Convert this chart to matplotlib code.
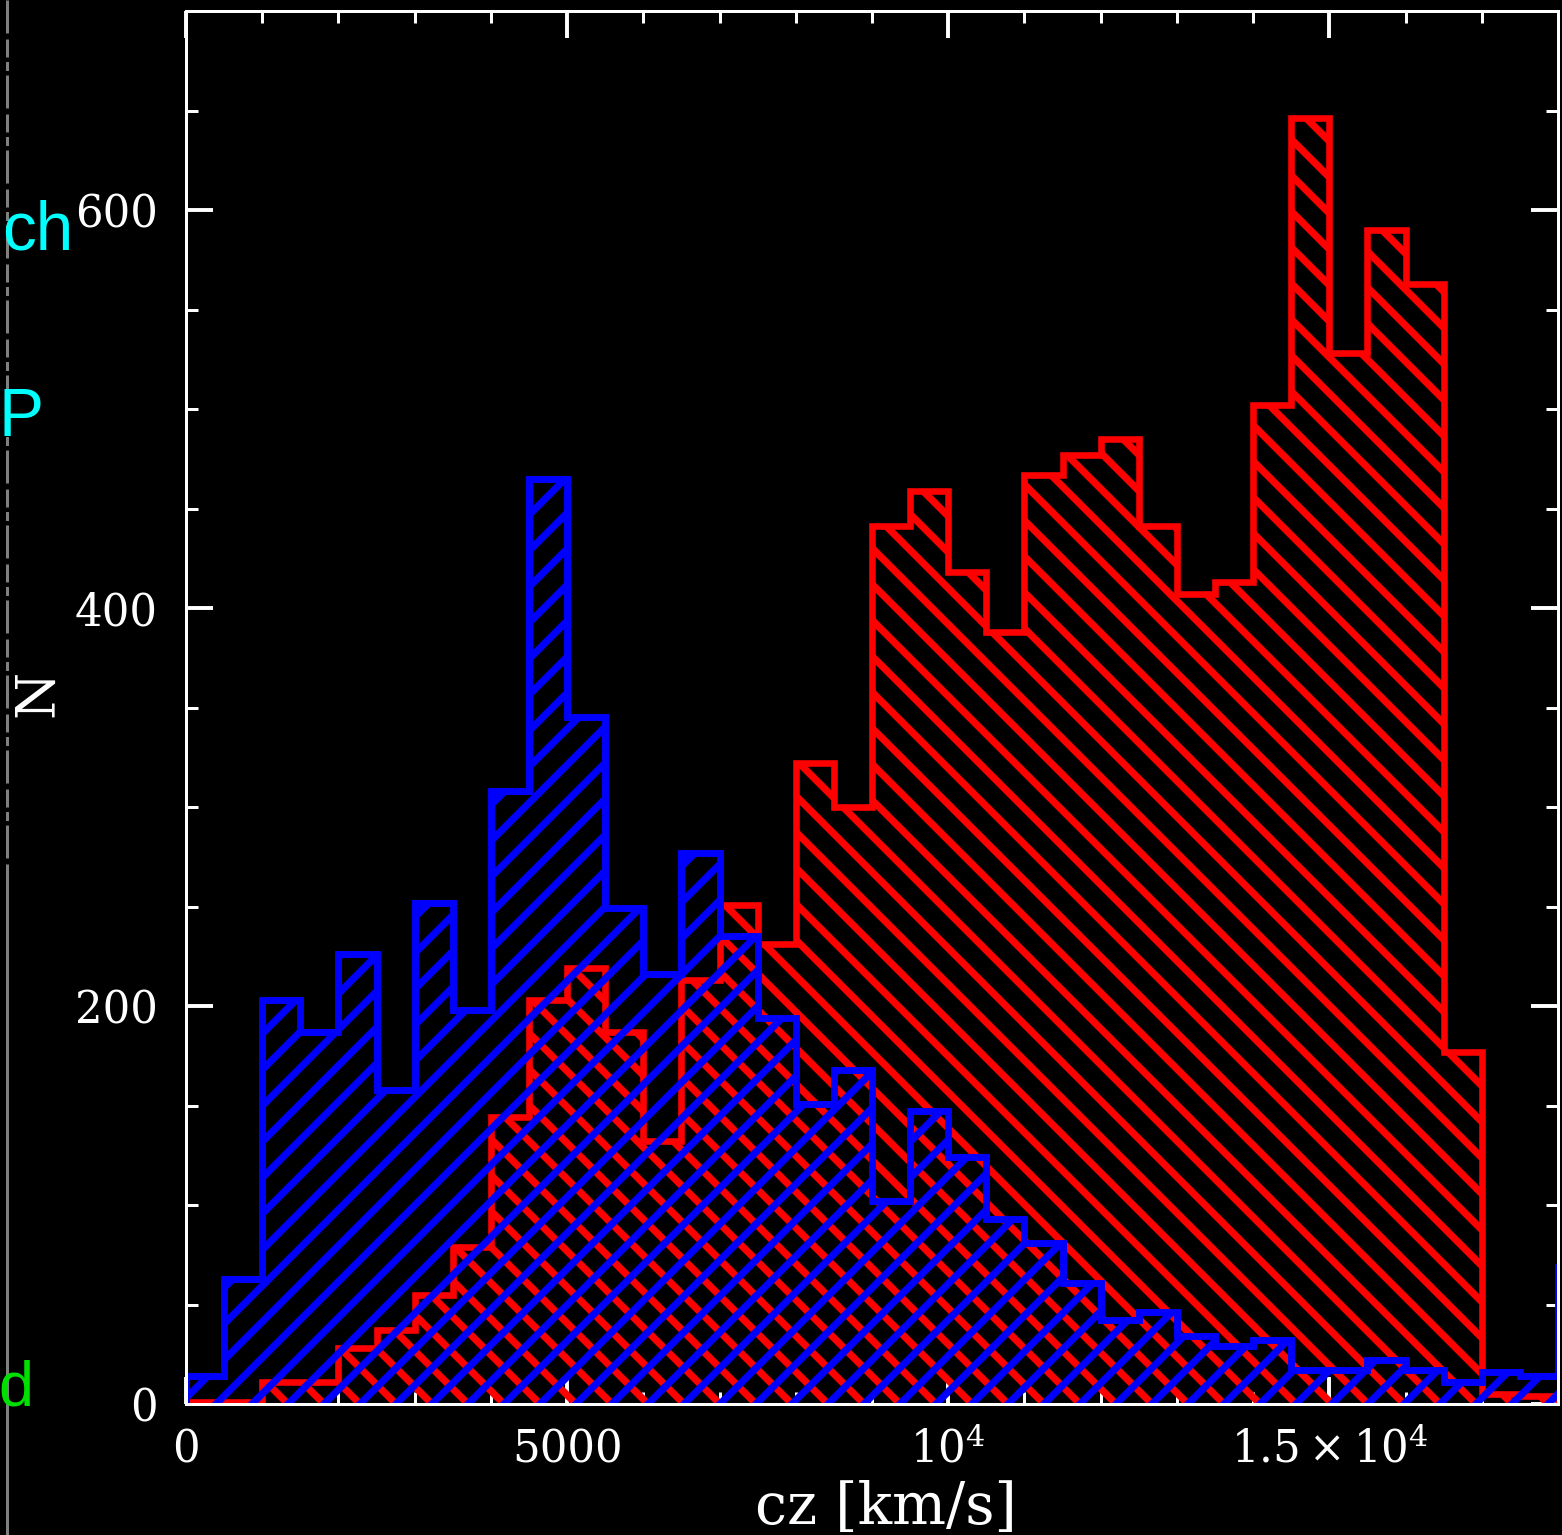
import matplotlib
matplotlib.use('Agg')
import matplotlib.pyplot as plt
from matplotlib.ticker import MultipleLocator
from matplotlib.lines import Line2D

# ---------------- data ----------------
bin_edges = list(range(0, 18501, 500))
blue_counts = [14, 63, 203, 187, 226, 158, 252, 198, 308, 465,
               345, 249, 216, 277, 235, 194, 151, 168, 102, 147,
               124, 93, 81, 61, 42, 46, 34, 29, 32, 17,
               17, 22, 17, 11, 16, 14, 69]
red_counts = [1, 1, 11, 11, 28, 37, 55, 79, 144, 203,
              219, 187, 132, 213, 251, 231, 322, 300, 441, 459,
              418, 388, 467, 477, 485, 441, 407, 413, 502, 646,
              528, 590, 563, 177, 5, 4, 0]
xtick_values = [0, 5000, 10000, 15000]
xtick_labels = ['0', '5000', r'$10^{4}$', r'$1.5\times10^{4}$']
ytick_values = [0, 200, 400, 600]
ytick_labels = ['0', '200', '400', '600']
x_label = 'cz [km/s]'
y_label = 'N'
side_texts = ['ch', 'P', 'd']

# ---------------- style ----------------
DPI = 216
W, H = 1562, 1535
plt.rcParams['mathtext.fontset'] = 'dejavuserif'
plt.rcParams['hatch.linewidth'] = 2.4
SERIF = ['DejaVu Serif']

fig = plt.figure(figsize=(W / DPI, H / DPI), dpi=DPI, facecolor='black')
ax = fig.add_axes([186 / W, (H - 1404) / H, (1558 - 186) / W, (1404 - 11) / H])
ax.set_facecolor('black')

ax.stairs(red_counts, bin_edges, baseline=0, fill=True, facecolor='none',
          edgecolor='#ff0000', hatch='\\\\', linewidth=2.2, zorder=2)
ax.stairs(blue_counts, bin_edges, baseline=0, fill=True, facecolor='none',
          edgecolor='#0000ff', hatch='//', linewidth=2.3, zorder=3)

ax.set_xlim(0, 18000)
ax.set_ylim(0, 700)

for s in ax.spines.values():
    s.set_color('white')
    s.set_linewidth(1.0)
    s.set_zorder(5)

ax.set_xticks(xtick_values)
ax.set_xticklabels(xtick_labels)
ax.set_yticks(ytick_values)
ax.set_yticklabels(ytick_labels)
ax.xaxis.set_minor_locator(MultipleLocator(1000))
ax.yaxis.set_minor_locator(MultipleLocator(50))
ax.tick_params(which='both', direction='in', top=True, right=True,
               colors='white', labelcolor='white')
ax.tick_params(which='major', length=9, width=1.3)
ax.tick_params(which='minor', length=4, width=1.0)
ax.tick_params(axis='x', which='major', pad=19.5, labelsize=14.5)
ax.tick_params(axis='y', which='major', pad=9.5, labelsize=14.5)
for lbl in ax.get_xticklabels():
    lbl.set_family(SERIF)
    lbl.set_verticalalignment('baseline')
for lbl in ax.get_yticklabels():
    lbl.set_family(SERIF)

# axis labels
fig.text(886 / W, 1 - 1524 / H, x_label, color='white', fontsize=19,
         family=SERIF, ha='center', va='baseline')
fig.text(38 / W, 1 - 693 / H, y_label, color='white', fontsize=18,
         family=SERIF, ha='center', va='center', rotation=90)

# fragments of the neighbouring panel at the left edge
fig.add_artist(Line2D([7 / W, 7 / W], [1.0, 1 - 880 / H], transform=fig.transFigure,
                      color='#808080', linewidth=1.0,
                      dashes=[11, 2, 6, 1.5, 3, 1.5]))
fig.add_artist(Line2D([7 / W, 7 / W], [1 - 880 / H, 0.0], transform=fig.transFigure,
                      color='#808080', linewidth=1.0))
fig.text(2 / W, 1 - 249 / H, side_texts[0], color='#00ffff', fontsize=22.5,
         family=['Liberation Sans', 'DejaVu Sans'], ha='left', va='baseline')
fig.text(-2 / W, 1 - 436 / H, side_texts[1], color='#00ffff', fontsize=22.5,
         family=['Liberation Sans', 'DejaVu Sans'], ha='left', va='baseline')
fig.text(-2 / W, 1 - 1406 / H, side_texts[2], color='#00e000', fontsize=21,
         family=['Liberation Sans', 'DejaVu Sans'], ha='left', va='baseline')

fig.savefig('out.png', dpi=DPI, facecolor='black')
